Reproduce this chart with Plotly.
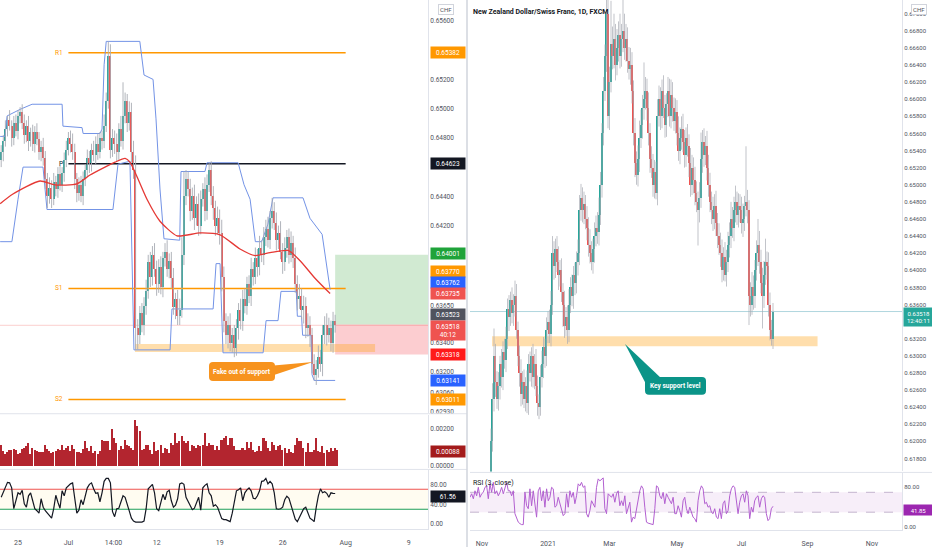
import numpy as np
import plotly.graph_objects as go

W, H = 932, 550
def fx(px): return px / W
def fy(py): return 1 - py / H

PIP = 1e-4
TEAL, RED, WICK = "#26a69a", "#ef5350", "#a8abb3"

# ---------------- LEFT PANEL: NZDCHF 4H ----------------
left_first_open = 6465
left_close = [
    6470, 6478, 6486, 6492, 6488, 6480, 6490, 6485, 6495, 6498,
    6490, 6482, 6488, 6478, 6484, 6476, 6484, 6479, 6470, 6474,
    6466, 6452, 6440, 6446, 6438, 6450, 6445, 6455, 6448, 6456,
    6465, 6472, 6480, 6476, 6470, 6452, 6442, 6448, 6440, 6452,
    6458, 6466, 6462, 6472, 6468, 6476, 6470, 6480, 6478, 6488,
    6505, 6536, 6472, 6480, 6476, 6470, 6486, 6478, 6495, 6505,
    6490, 6498, 6470, 6458, 6350, 6345, 6360, 6352, 6365, 6375,
    6395, 6385, 6400, 6390, 6380, 6392, 6378, 6398, 6402, 6390,
    6396, 6384, 6364, 6370, 6358, 6362, 6400, 6440, 6452, 6445,
    6430, 6440, 6425, 6435, 6420, 6438, 6445, 6430, 6448, 6458,
    6440, 6432, 6420, 6425, 6415, 6385, 6355, 6345, 6352, 6340,
    6345, 6336, 6350, 6362, 6355, 6370, 6365, 6380, 6372, 6390,
    6385, 6398, 6392, 6405, 6400, 6412, 6418, 6410, 6425, 6430,
    6422, 6410, 6415, 6402, 6395, 6405, 6412, 6400, 6408, 6398,
    6380, 6370, 6372, 6362, 6365, 6350, 6352, 6345, 6325, 6318,
    6322, 6330, 6325, 6345, 6352, 6345, 6350, 6340, 6355, 6351.8]
left_up_wick = [
    5, 4, 6, 3, 7, 4, 5, 6, 4, 3, 5, 6, 4, 7, 3, 5, 4, 6, 5, 4,
    6, 5, 4, 7, 5, 6, 4, 5, 6, 4, 5, 6, 4, 5, 7, 6, 4, 5, 6, 5,
    4, 6, 5, 4, 6, 5, 7, 4, 5, 8, 6, 10, 8, 6, 5, 7, 4, 9, 23, 6,
    5, 7, 6, 8, 10, 6, 5, 7, 6, 8, 5, 7, 6, 8, 6, 5, 7, 4, 6, 8,
    5, 6, 7, 4, 6, 8, 12, 17, 6, 5, 7, 6, 8, 5, 7, 6, 4, 8, 7, 5,
    6, 7, 5, 8, 6, 9, 7, 5, 6, 8, 5, 7, 6, 5, 8, 6, 7, 5, 6, 8,
    5, 7, 6, 8, 5, 7, 6, 8, 5, 9, 6, 7, 5, 8, 6, 7, 5, 6, 8, 5,
    7, 6, 8, 5, 7, 6, 8, 6, 5, 7, 6, 8, 5, 7, 6, 8, 7, 5, 6, 4]
left_dn_wick = [
    5, 6, 4, 5, 3, 6, 5, 4, 6, 5, 4, 6, 5, 7, 4, 5, 6, 4, 5, 6,
    5, 7, 8, 5, 6, 4, 5, 6, 4, 5, 6, 5, 4, 6, 5, 7, 6, 5, 4, 6,
    5, 4, 6, 5, 4, 6, 5, 4, 6, 5, 4, 5, 6, 5, 7, 6, 5, 4, 6, 5,
    6, 5, 7, 6, 15, 10, 6, 5, 7, 6, 5, 7, 6, 5, 8, 6, 5, 7, 6, 5,
    6, 7, 5, 8, 6, 6, 5, 7, 6, 5, 7, 6, 8, 5, 7, 6, 5, 7, 6, 5,
    6, 8, 7, 6, 8, 10, 8, 6, 9, 6, 7, 6, 5, 8, 6, 7, 5, 6, 5, 7,
    6, 5, 7, 6, 5, 7, 6, 5, 6, 7, 5, 7, 6, 5, 8, 6, 7, 6, 5, 7,
    6, 8, 7, 6, 9, 7, 6, 8, 6, 4, 7, 6, 5, 8, 6, 7, 5, 6, 7, 5]

upper_band_x = [-0.5, 1.8, 2.8, 9, 14.7, 29, 29.4, 38.5, 39, 47, 48, 49, 50, 66, 68, 72.3,
                73.7, 75.6, 77.5, 85, 85.6, 97, 98, 112.8, 115.6, 118.5, 121, 124, 127,
                129.4, 143.7, 147, 152.8, 156.6]
upper_band = [6481, 6481, 6495, 6499.5, 6503, 6503, 6488, 6487, 6483, 6483, 6486, 6530, 6546,
              6546, 6523, 6520, 6493, 6445, 6411, 6410, 6457, 6457, 6463, 6463, 6448, 6438,
              6409, 6409, 6421, 6439, 6439, 6425, 6414, 6376.2]
lower_band_x = [-0.5, 5.1, 8, 10.4, 19.9, 21.8, 53.2, 55.6, 61.3, 63.2, 80.4, 81.3, 100.9,
                102.3, 104.2, 105.6, 124.7, 126.1, 131.8, 133.2, 140.5, 141, 143, 143.5,
                147.5, 148, 149, 159]
lower_band = [6409, 6409, 6438, 6460, 6460, 6431, 6431, 6462, 6464, 6335, 6335, 6363, 6363,
              6394, 6394, 6333, 6333, 6355, 6355, 6375, 6375, 6358, 6358, 6345, 6345, 6318,
              6314.1, 6314.1]
ma_x = [-0.5, 5.6, 18.5, 25.6, 36, 42.3, 49.4, 54.2, 59, 61.3, 65.1, 69.4, 75.6, 83.7, 94.7,
        104.2, 113.7, 120.9, 128, 136.6, 142.3, 149.4, 156.6]
ma_v = [6435, 6441.6, 6450.5, 6447.8, 6448.5, 6454.6, 6460, 6463.4, 6466, 6463.4, 6452, 6438,
        6423, 6413, 6415, 6413.7, 6404, 6399.5, 6401.5, 6403, 6396, 6384, 6373.5]

pivot_names = ["R1", "P", "S1", "S2"]
pivot_values = [0.65382, 0.64623, 0.63770, 0.63011]
pivot_colors = ["#ff9800", "#131722", "#ff9800", "#ff9800"]
pivot_span = [32, 164]

left_zone_x = [63.7, 178]
left_zone_y = [0.63335, 0.63390]
position_x = [159, 204]
position_entry, position_tp, position_sl = 0.63523, 0.64001, 0.63318
last_price = 0.63518

hist_vals = [
    116, 80, 63, 75, 86, 89, 93, 86, 63, 71, 93, 98, 107, 122, 63, 98, 86, 80, 75, 75,
    75, 111, 93, 80, 68, 75, 80, 93, 86, 111, 86, 98, 107, 80, 111, 93, 75, 75, 68, 93,
    134, 98, 80, 107, 71, 80, 63, 80, 143, 134, 134, 134, 89, 197, 152, 125, 89, 107, 93, 143,
    111, 107, 98, 89, 250, 214, 188, 89, 93, 116, 116, 89, 63, 129, 80, 89, 111, 71, 98, 93,
    68, 125, 116, 179, 125, 134, 161, 134, 125, 134, 80, 116, 107, 98, 116, 107, 111, 179, 107, 125,
    116, 116, 89, 107, 89, 143, 152, 161, 116, 152, 152, 107, 89, 86, 86, 98, 86, 129, 98, 129,
    89, 75, 80, 107, 80, 152, 134, 98, 80, 129, 116, 89, 107, 116, 89, 98, 68, 93, 75, 68,
    111, 152, 134, 134, 98, 75, 125, 75, 75, 89, 152, 80, 75, 107, 71, 89, 75, 98, 80, 98, 88]

stoch_vals = [
    54, 65, 76, 84, 83, 73, 31, 49, 63, 60, 68, 41, 34, 57, 63, 47, 31, 27, 22, 51,
    34, 27, 22, 15, 12, 31, 58, 44, 32, 67, 57, 73, 78, 81, 83, 57, 22, 28, 49, 39,
    57, 73, 80, 83, 71, 62, 63, 45, 63, 86, 92, 92, 83, 25, 15, 31, 32, 44, 57, 54,
    38, 26, 12, 6, 4, 4, 4, 4, 6, 31, 71, 76, 80, 63, 31, 27, 41, 60, 49, 65,
    68, 47, 34, 38, 51, 81, 83, 80, 54, 46, 38, 29, 32, 44, 54, 28, 73, 78, 81, 63,
    57, 36, 39, 34, 22, 11, 9, 9, 7, 5, 22, 44, 67, 69, 73, 47, 63, 69, 73, 67,
    52, 51, 57, 67, 86, 87, 92, 81, 86, 81, 63, 31, 30, 31, 34, 49, 56, 52, 38, 22,
    10, 5, 13, 22, 31, 34, 22, 12, 9, 5, 34, 57, 71, 63, 65, 62, 54, 63, 62, 61.56]
stoch_levels = [70, 30]

left_xticks = [8, 32, 53.5, 74, 104, 134, 164, 194]
left_xtext = ["25", "Jul", "14:00", "12", "19", "26", "Aug", "9"]
left_yticks = [0.656, 0.652, 0.650, 0.648, 0.644, 0.642, 0.6365, 0.634, 0.632, 0.6306, 0.6293]

# ---------------- RIGHT PANEL: NZDCHF 1D ----------------
right_first_day = 6
right_first_open = 6150
right_close = [
    6200, 6250, 6300, 6270, 6250, 6265, 6290, 6275, 6305, 6295,
    6320, 6355, 6345, 6365, 6350, 6360, 6370, 6330, 6300, 6280,
    6255, 6270, 6250, 6265, 6245, 6290, 6280, 6300, 6275, 6290,
    6265, 6245, 6240, 6275, 6290, 6310, 6300, 6330, 6340, 6325,
    6360, 6420, 6405, 6425, 6410, 6395, 6400, 6375, 6360, 6335,
    6345, 6330, 6360, 6380, 6370, 6395, 6385, 6410, 6420, 6470,
    6485, 6470, 6478, 6460, 6450, 6430, 6420, 6410, 6425, 6440,
    6450, 6445, 6465, 6500, 6560, 6610, 6650, 6700, 6580, 6620,
    6665, 6650, 6670, 6640, 6660, 6675, 6650, 6670, 6680, 6660,
    6670, 6645, 6635, 6640, 6610, 6560, 6525, 6512, 6530, 6555,
    6570, 6590, 6600, 6610, 6590, 6560, 6530, 6520, 6500, 6515,
    6490, 6580, 6600, 6580, 6610, 6590, 6570, 6595, 6610, 6580,
    6605, 6590, 6575, 6585, 6560, 6540, 6555, 6565, 6550, 6535,
    6555, 6545, 6525, 6500, 6520, 6505, 6490, 6480, 6470, 6485,
    6530, 6550, 6535, 6545, 6520, 6500, 6480, 6470, 6460, 6475,
    6455, 6440, 6430, 6420, 6400, 6415, 6395, 6410, 6430, 6440,
    6460, 6450, 6470, 6480, 6465, 6475, 6470, 6455, 6460, 6475,
    6480, 6470, 6370, 6360, 6380, 6370, 6400, 6420, 6430, 6410,
    6385, 6370, 6395, 6410, 6405, 6360, 6330, 6320, 6351.8]
right_up_wick = [
    15, 18, 32, 14, 12, 16, 10, 18, 12, 15, 14, 12, 16, 10, 15, 12, 18, 14, 10, 12,
    16, 12, 14, 10, 18, 12, 15, 10, 14, 12, 18, 12, 10, 14, 16, 12, 10, 15, 12, 14,
    16, 20, 14, 12, 15, 18, 12, 14, 10, 16, 12, 14, 18, 12, 15, 10, 14, 12, 16, 18,
    16, 12, 14, 10, 15, 12, 18, 14, 12, 16, 14, 18, 20, 15, 12, 16, 14, 30, 25, 18,
    50, 20, 30, 18, 22, 16, 25, 18, 36, 20, 18, 14, 16, 20, 15, 12, 18, 14, 16, 20,
    18, 15, 43, 16, 14, 18, 12, 15, 16, 14, 12, 20, 16, 14, 13, 18, 15, 12, 16, 14,
    18, 15, 12, 16, 14, 20, 12, 15, 18, 14, 12, 16, 14, 18, 15, 12, 16, 14, 12, 18,
    31, 14, 16, 12, 18, 15, 14, 12, 16, 14, 18, 12, 15, 14, 16, 12, 18, 14, 15, 16,
    20, 14, 16, 19, 12, 15, 14, 16, 18, 12, 65, 14, 12, 16, 18, 14, 12, 15, 30, 16,
    14, 18, 16, 27, 12, 16, 14, 12, 10]
right_dn_wick = [
    10, 12, 15, 18, 12, 14, 16, 12, 15, 10, 14, 12, 16, 10, 12, 15, 14, 10, 12, 16,
    14, 12, 11, 15, 12, 14, 10, 16, 12, 14, 12, 15, 14, 10, 12, 16, 14, 12, 15, 10,
    14, 12, 16, 14, 12, 18, 14, 12, 26, 14, 12, 16, 14, 10, 12, 15, 14, 12, 16, 14,
    12, 14, 16, 12, 15, 14, 12, 10, 14, 16, 12, 14, 16, 12, 15, 14, 12, 18, 14, 16,
    12, 15, 14, 18, 12, 16, 14, 12, 15, 14, 16, 14, 12, 18, 15, 14, 16, 12, 14, 15,
    12, 16, 14, 12, 15, 14, 16, 12, 14, 16, 7, 14, 12, 16, 14, 12, 15, 14, 16, 12,
    14, 16, 12, 15, 14, 12, 16, 14, 12, 15, 14, 12, 16, 14, 12, 15, 14, 12, 41, 14,
    12, 16, 14, 12, 15, 14, 12, 16, 14, 12, 15, 14, 12, 16, 14, 12, 8, 14, 12, 15,
    14, 12, 16, 14, 12, 15, 14, 12, 16, 14, 12, 15, 34, 14, 12, 16, 14, 12, 15, 14,
    12, 38, 14, 12, 16, 14, 12, 8, 12]
right_zone_x = [6.7, 223.7]
right_zone_y = [0.63113, 0.63230]

rsi_first_day, rsi_last_day = -8, 194
rsi_vals = [
    60, 67, 57, 73, 63, 80, 60, 67, 70, 80, 83, 57, 87, 70, 90, 67, 73, 63, 70, 80,
    67, 77, 90, 73, 73, 63, 73, 27, 17, 10, 7, 5, 5, 70, 43, 37, 77, 43, 73, 50,
    20, 73, 80, 53, 73, 40, 77, 53, 60, 80, 77, 40, 43, 60, 47, 30, 23, 27, 67, 40,
    73, 60, 70, 47, 63, 87, 83, 90, 80, 83, 27, 20, 33, 53, 47, 40, 80, 97, 93, 97,
    99, 37, 27, 67, 63, 60, 67, 50, 67, 73, 43, 53, 43, 63, 27, 37, 50, 10, 20, 17,
    37, 60, 73, 83, 77, 40, 10, 8, 7, 5, 5, 37, 83, 80, 63, 57, 70, 47, 67, 60,
    53, 47, 60, 27, 27, 43, 33, 20, 53, 60, 37, 27, 40, 30, 20, 17, 10, 53, 73, 83,
    77, 47, 50, 40, 43, 30, 27, 37, 20, 17, 37, 17, 47, 53, 27, 33, 63, 77, 83, 80,
    53, 27, 50, 63, 67, 50, 73, 63, 17, 40, 30, 53, 60, 63, 40, 57, 63, 60, 27, 13,
    17, 37, 41.85]
rsi_levels = [70, 30]

right_xticks = [0, 44, 85, 130, 173, 217, 260]
right_xtext = ["Nov", "2021", "Mar", "May", "Jul", "Sep", "Nov"]
right_yticks = [0.670, 0.668, 0.666, 0.664, 0.662, 0.660, 0.658, 0.656, 0.654, 0.652, 0.650,
                0.648, 0.646, 0.644, 0.642, 0.640, 0.638, 0.636, 0.632, 0.630, 0.628,
                0.626, 0.624, 0.622, 0.620, 0.618]

# ---------------- build ----------------
def ohlc(first_open, closes, upw, dnw):
    c = np.array(closes, float) * PIP
    o = np.concatenate([[first_open * PIP], c[:-1]])
    hi = np.maximum(o, c) + np.array(upw, float) * PIP
    lo = np.minimum(o, c) - np.array(dnw, float) * PIP
    return o, hi, lo, c

def wick_xy(x, lo, hi):
    xs, ys = [], []
    for a, b, c in zip(x, lo, hi):
        xs += [a, a, None]
        ys += [b, c, None]
    return xs, ys

fig = go.Figure()

def add_candles(x, o, hi, lo, c, xa, ya, width, wick_w=0.9):
    wx, wy = wick_xy(x, lo, hi)
    fig.add_trace(go.Scatter(x=wx, y=wy, mode="lines", line=dict(color=WICK, width=wick_w),
                             xaxis=xa, yaxis=ya, hoverinfo="skip", showlegend=False))
    cols = [TEAL if cc >= oo else RED for oo, cc in zip(o, c)]
    fig.add_trace(go.Bar(x=x, y=np.abs(c - o), base=np.minimum(o, c), width=width,
                         marker=dict(color=cols, line=dict(width=0)),
                         xaxis=xa, yaxis=ya, showlegend=False, hoverinfo="skip"))

lo_, lh, ll, lc = ohlc(left_first_open, left_close, left_up_wick, left_dn_wick)
lx = np.arange(len(lc))

shapes = []
def rect(xref, yref, x0, x1, y0, y1, color, layer="below"):
    shapes.append(dict(type="rect", xref=xref, yref=yref, x0=x0, x1=x1, y0=y0, y1=y1,
                       fillcolor=color, line=dict(width=0), layer=layer))
def hline(xref, yref, y, color, width=1, dash="solid", x0=0, x1=1):
    shapes.append(dict(type="line", xref=xref, yref=yref, x0=x0, x1=x1, y0=y, y1=y,
                       line=dict(color=color, width=width, dash=dash), layer="below"))

rect("x", "y", position_x[0], position_x[1], position_entry, position_tp, "rgba(76,175,80,0.26)")
rect("x", "y", position_x[0], position_x[1], position_sl, position_entry, "rgba(242,54,69,0.25)")
rect("x", "y", left_zone_x[0], left_zone_x[1], left_zone_y[0], left_zone_y[1], "rgba(255,167,38,0.38)")
hline("x domain", "y", last_price, "rgba(239,83,80,0.28)")
rect("x4", "y4", right_zone_x[0], right_zone_x[1], right_zone_y[0], right_zone_y[1], "rgba(255,167,38,0.38)")
hline("x4 domain", "y4", last_price, "rgba(110,180,195,0.55)")
rect("x3 domain", "y3", 0, 1, stoch_levels[1], stoch_levels[0], "rgba(255,236,179,0.18)")
hline("x3 domain", "y3", stoch_levels[0], "#ef5350", 1.1)
hline("x3 domain", "y3", stoch_levels[1], "#1e9e5a", 1.1)
rect("x5 domain", "y5", 0, 1, rsi_levels[1], rsi_levels[0], "rgba(156,39,176,0.08)")
hline("x5 domain", "y5", rsi_levels[0], "rgba(150,130,170,0.7)", 0.8, "dash")
hline("x5 domain", "y5", rsi_levels[1], "rgba(150,130,170,0.7)", 0.8, "dash")

for nm, v, col in zip(pivot_names, pivot_values, pivot_colors):
    fig.add_trace(go.Scatter(x=pivot_span, y=[v, v], mode="lines", line=dict(color=col, width=1.6),
                             xaxis="x", yaxis="y", hoverinfo="skip", showlegend=False))

fig.add_trace(go.Scatter(x=upper_band_x, y=np.array(upper_band) * PIP, mode="lines",
                         line=dict(color="#7393e6", width=1), xaxis="x", yaxis="y", showlegend=False))
fig.add_trace(go.Scatter(x=lower_band_x, y=np.array(lower_band) * PIP, mode="lines",
                         line=dict(color="#7393e6", width=1), xaxis="x", yaxis="y", showlegend=False))
add_candles(lx, lo_, lh, ll, lc, "x", "y", 0.65)
fig.add_trace(go.Scatter(x=ma_x, y=np.array(ma_v) * PIP, mode="lines",
                         line=dict(color="#e53935", width=1.3, shape="spline", smoothing=0.6),
                         xaxis="x", yaxis="y", showlegend=False))

fig.add_trace(go.Bar(x=np.arange(len(hist_vals)), y=np.array(hist_vals) * 1e-5, width=0.72,
                     marker=dict(color="#b3252f", line=dict(width=0)), xaxis="x2", yaxis="y2",
                     showlegend=False))
fig.add_trace(go.Scatter(x=np.arange(len(stoch_vals)), y=stoch_vals, mode="lines",
                         line=dict(color="#131722", width=1.2), xaxis="x3", yaxis="y3", showlegend=False))

ro, rh, rl, rc = ohlc(right_first_open, right_close, right_up_wick, right_dn_wick)
rx = np.arange(len(rc)) + right_first_day
add_candles(rx, ro, rh, rl, rc, "x4", "y4", 0.95, wick_w=0.7)

fig.add_trace(go.Scatter(x=np.linspace(rsi_first_day, rsi_last_day, len(rsi_vals)), y=rsi_vals,
                         mode="lines", line=dict(color="#b25fd0", width=1), xaxis="x5", yaxis="y5",
                         showlegend=False))

# ---------------- layout ----------------
TICKFONT = dict(family="Roboto, Arial, sans-serif", size=6.5, color="#50535e")
AXC = "#e0e3eb"
LX = [0, fx(428)]
RX = [fx(470), fx(902)]

def xaxis(domain, rng, anchor, labels=False, tv=None, tt=None, match=None):
    d = dict(domain=domain, range=rng, anchor=anchor, showgrid=False, zeroline=False,
             showticklabels=labels, ticks="outside" if labels else "", ticklen=7,
             tickcolor="rgba(0,0,0,0)",
             tickfont=dict(family="Roboto, Arial", size=7, color="#50535e"),
             showline=labels, linecolor=AXC, fixedrange=True)
    if tv is not None:
        d.update(tickmode="array", tickvals=tv, ticktext=tt)
    if match:
        d["matches"] = match
    return d

def yaxis(domain, rng, anchor, tv, fmt, size=6.5):
    return dict(domain=domain, range=rng, anchor=anchor, side="right", showgrid=False,
                zeroline=False, showline=True, linecolor=AXC, ticks="",
                tickfont=dict(TICKFONT, size=size),
                tickmode="array", tickvals=tv, ticktext=[fmt.format(v) for v in tv],
                fixedrange=True)

layout = dict(
    width=W, height=H, margin=dict(l=0, r=0, t=0, b=0), paper_bgcolor="white", plot_bgcolor="white",
    barmode="overlay", bargap=0, showlegend=False, font=dict(family="Roboto, Arial, sans-serif"),
    xaxis=xaxis(LX, [-0.57, 203.2], "y"),
    xaxis2=xaxis(LX, [-0.57, 203.2], "y2", match="x"),
    xaxis3=xaxis(LX, [-0.57, 203.2], "y3", True, left_xticks, left_xtext, match="x"),
    xaxis4=xaxis(RX, [-8, 280], "y4"),
    xaxis5=xaxis(RX, [-8, 280], "y5", True, right_xticks, right_xtext, match="x4"),
    yaxis=yaxis([fy(415), 1], [0.62920, 0.65743], "x", left_yticks, "{:.5f}"),
    yaxis2=yaxis([fy(471), fy(417)], [-0.000145, 0.002751], "x2", [0.002, 0.0], "{:.5f}"),
    yaxis3=yaxis([fy(532), fy(473)], [-10, 108], "x3", [80, 40, 0], "{:.2f}"),
    yaxis4=yaxis([fy(474), 1], [0.61649, 0.6716], "x4", right_yticks, "{:.5f}", 6),
    yaxis5=yaxis([fy(533), fy(476)], [-6, 108], "x5", [80, 0], "{:.2f}", 6),
)

for y in (416, 472):
    shapes.append(dict(type="line", xref="paper", yref="paper", x0=0, x1=fx(467), y0=fy(y), y1=fy(y),
                       line=dict(color=AXC, width=1)))
shapes.append(dict(type="line", xref="paper", yref="paper", x0=fx(470), x1=1, y0=fy(475), y1=fy(475),
                   line=dict(color=AXC, width=1)))
shapes.append(dict(type="line", xref="paper", yref="paper", x0=fx(467), x1=fx(467), y0=0, y1=1,
                   line=dict(color="#d1d4dc", width=1.5)))

def rrect_path(x0, y0, x1, y1, r):
    rx_, ry_ = r / W, r / H
    X0, X1, Y0, Y1 = fx(x0), fx(x1), fy(y0), fy(y1)
    return (f"M{X0+rx_},{Y0} L{X1-rx_},{Y0} Q{X1},{Y0} {X1},{Y0-ry_} L{X1},{Y1+ry_} Q{X1},{Y1} {X1-rx_},{Y1} "
            f"L{X0+rx_},{Y1} Q{X0},{Y1} {X0},{Y1+ry_} L{X0},{Y0-ry_} Q{X0},{Y0} {X0+rx_},{Y0} Z")
def poly_path(pts):
    return "M" + " L".join(f"{fx(a)},{fy(b)}" for a, b in pts) + " Z"

ORANGE_CALL, TEAL_CALL = "#f7931e", "#0b9488"
shapes.append(dict(type="path", xref="paper", yref="paper", path=poly_path([(268, 368), (313, 364), (268, 379)]),
                   fillcolor=ORANGE_CALL, line=dict(width=0)))
shapes.append(dict(type="path", xref="paper", yref="paper", path=rrect_path(209, 364, 275, 383, 4),
                   fillcolor=ORANGE_CALL, line=dict(width=0)))
shapes.append(dict(type="path", xref="paper", yref="paper", path=poly_path([(625, 346), (662, 381), (646, 386)]),
                   fillcolor=TEAL_CALL, line=dict(width=0)))
shapes.append(dict(type="path", xref="paper", yref="paper", path=rrect_path(645, 379, 706, 397, 4),
                   fillcolor=TEAL_CALL, line=dict(width=0)))
layout["shapes"] = shapes

ann = []
def text(px, py, t, size=7, color="#131722", xanchor="left", bold=False):
    ann.append(dict(xref="paper", yref="paper", x=fx(px), y=fy(py), text=f"<b>{t}</b>" if bold else t,
                    showarrow=False, xanchor=xanchor, yanchor="middle",
                    font=dict(size=size, color=color, family="Roboto, Arial, sans-serif")))
def box(px, py, t, bg, width=31, fc="white", size=6.5):
    ann.append(dict(xref="paper", yref="paper", x=fx(px), y=fy(py), text=t, showarrow=False,
                    xanchor="left", yanchor="middle", bgcolor=bg, borderpad=1.5, width=width,
                    align="center", font=dict(size=size, color=fc, family="Roboto, Arial, sans-serif")))

for nm, v, col in zip(pivot_names, pivot_values, pivot_colors):
    ann.append(dict(xref="x", yref="y", x=pivot_span[0] - 1.4, y=v, text=nm, showarrow=False,
                    xanchor="right", yanchor="middle", font=dict(size=6.5, color=col)))

left_boxes = [("0.65382", "#ff9800", 53), ("0.64623", "#131722", 164), ("0.64001", "#1fa33a", 255),
              ("0.63770", "#ff9800", 273), ("0.63762", "#2962ff", 284), ("0.63735", "#ef5350", 295),
              ("0.63523", "#50535e", 316), ("0.63518<br>40:12", "#ef5350", 332),
              ("0.63318", "#ff1a1a", 356), ("0.63141", "#2962ff", 383), ("0.63011", "#ff9800", 402),
              ("0.00088", "#a31b1b", 454), ("61.56", "#131722", 499)]
for t, c, y in left_boxes:
    box(429.5, y, t, c)
box(903, 319, "0.63518<br>12:40:11", "#26a69a", width=26, size=6)
box(903, 513, "41.85", "#9c27b0", width=26, size=6)

for cx in (446, 919):
    ann.append(dict(xref="paper", yref="paper", x=fx(cx), y=fy(10), text="CHF", showarrow=False,
                    xanchor="center", yanchor="middle", bgcolor="white", bordercolor="#d1d4dc",
                    borderwidth=1, borderpad=1, font=dict(size=6, color="#50535e")))

text(471, 12, "New Zealand Dollar/Swiss Franc, 1D, FXCM", size=7, bold=True)
text(471, 486, "RSI (3, close)", size=7)
text(242, 374, "Fake out of support", size=6.5, color="white", xanchor="center", bold=True)
text(675.5, 388, "Key support level", size=6.5, color="white", xanchor="center", bold=True)
layout["annotations"] = ann

fig.update_layout(**layout)
fig.write_html("out.html", config={"displayModeBar": False},
               post_script="document.body.style.margin='0';")
